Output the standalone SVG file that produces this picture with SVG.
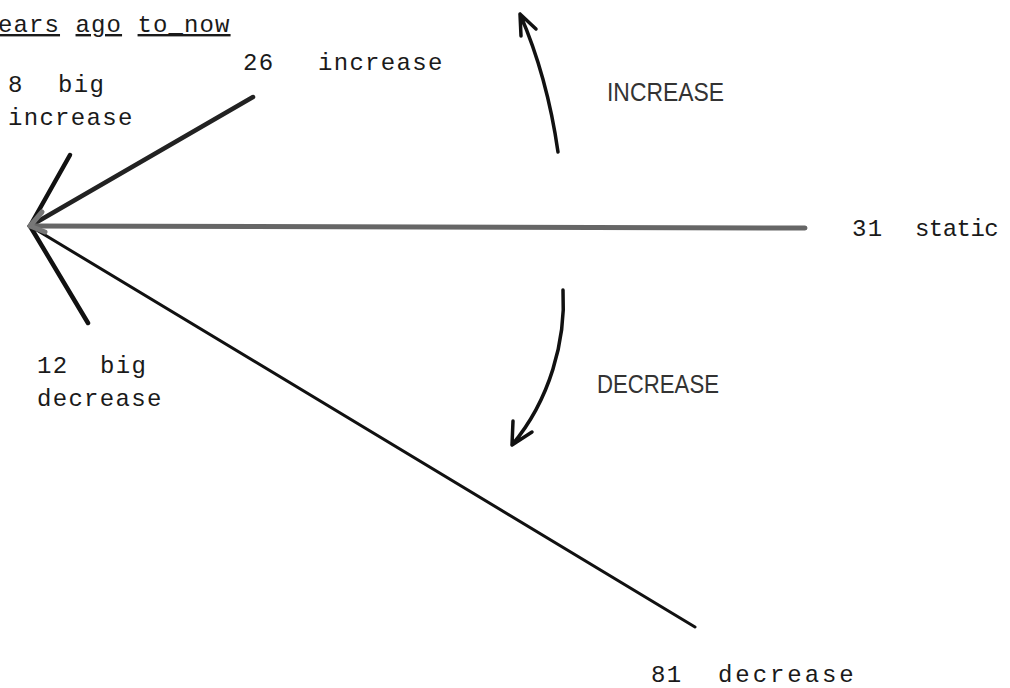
<svg xmlns="http://www.w3.org/2000/svg" width="1010" height="688" viewBox="0 0 1010 688">
<style>
.t{font-family:"Liberation Mono",monospace;font-size:24px;fill:#1a1a1a;letter-spacing:1.3px}
.c{font-family:"Liberation Sans",Arial,sans-serif;font-size:25px;fill:#333}
.ln{stroke:#111;stroke-linecap:round;fill:none}
.ar{stroke:#111;stroke-width:3.5;fill:none;stroke-linecap:round;stroke-linejoin:round}
</style>
<rect width="1010" height="688" fill="#fff"/>
<g id="title"><text class="t" x="-2" y="32" style="letter-spacing:1.1px"><tspan text-decoration="underline">ears</tspan> <tspan text-decoration="underline">ago</tspan> <tspan text-decoration="underline">to_now</tspan></text></g>
<g id="connectors">
<line class="ln" x1="30" y1="226" x2="253" y2="97" stroke-width="4.5" style="stroke:#222"/>
<line class="ln" x1="30" y1="226" x2="70" y2="155" stroke-width="4.5"/>
<line class="ln" x1="30" y1="226" x2="805" y2="228" stroke-width="5" style="stroke:#666"/>
<line class="ln" x1="30" y1="226" x2="88" y2="323" stroke-width="4.5"/>
<line class="ln" x1="30" y1="226" x2="695" y2="627" stroke-width="3"/>
<path class="ln" d="M30,226 L42,212 M30,226 L45,232" stroke-width="5" style="stroke:#777"/>
<path class="ar" d="M558,152 C552,110 540,60 520,14 M520,14 L521,36 M520,14 L536,29"/>
<path class="ar" d="M563,290 C566,340 550,400 512,445 M512,445 L513,421 M512,445 L532,432"/>
</g>
<g id="n-big-increase"><text class="t" y="92"><tspan x="8">8</tspan><tspan x="58">big</tspan></text><text class="t" x="8" y="125">increase</text></g>
<g id="n-increase"><text class="t" y="70"><tspan x="243">26</tspan><tspan x="318">increase</tspan></text></g>
<g id="n-static"><text class="t" y="236"><tspan x="852">31</tspan><tspan x="915" textLength="85" lengthAdjust="spacing">static</tspan></text></g>
<g id="n-big-decrease"><text class="t" y="373"><tspan x="37">12</tspan><tspan x="100">big</tspan></text><text class="t" x="37" y="406">decrease</text></g>
<g id="n-decrease"><text class="t" y="682"><tspan x="651">81</tspan><tspan x="718" textLength="137" lengthAdjust="spacing">decrease</tspan></text></g>
<g id="l-increase"><text class="c" x="607" y="101" textLength="117" lengthAdjust="spacingAndGlyphs">INCREASE</text></g>
<g id="l-decrease"><text class="c" x="597" y="393" textLength="122" lengthAdjust="spacingAndGlyphs">DECREASE</text></g>
</svg>
